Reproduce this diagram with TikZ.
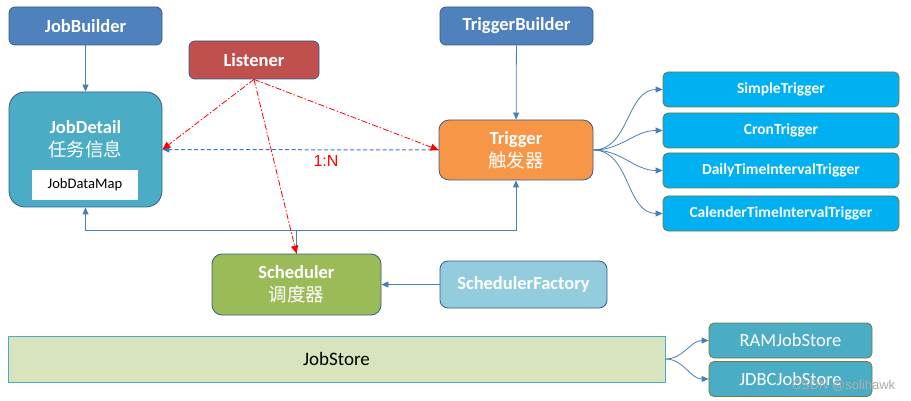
\documentclass[tikz,border=0pt]{standalone}
\usepackage{fontspec}
\setmainfont{Carlito}
\newfontfamily\cjk{Noto Sans CJK SC}
\newfontfamily\arialf{Liberation Sans}
\usetikzlibrary{arrows.meta}
\definecolor{bluebox}{HTML}{4F81BD}
\definecolor{bordblue}{HTML}{385D8A}
\definecolor{redbox}{HTML}{C0504D}
\definecolor{tealbox}{HTML}{4BACC6}
\definecolor{orangebox}{HTML}{F79646}
\definecolor{cyanbox}{HTML}{00B0F0}
\definecolor{olivebord}{HTML}{6F7F3A}
\definecolor{greenbox}{HTML}{9BBB59}
\definecolor{lightblue}{HTML}{93CDDD}
\definecolor{storefill}{HTML}{D7E4BD}
\definecolor{linkblue}{HTML}{4A7EBB}
\definecolor{dashblue}{HTML}{4472C4}
\tikzset{
  box/.style={draw=bordblue, line width=0.8pt, inner sep=0pt, align=center, text=white,
    font=\fontsize{18.5}{23}\selectfont\bfseries},
  tbox/.style={draw=olivebord, line width=0.8pt, fill=cyanbox, rounded corners=5pt, inner sep=0pt,
    minimum width=236pt, minimum height=35pt, text=white, font=\fontsize{15.5}{18}\selectfont\bfseries},
  sbox/.style={draw=olivebord, line width=0.8pt, fill=tealbox, rounded corners=5pt, inner sep=0pt,
    minimum width=163pt, minimum height=35pt, text=white, font=\fontsize{18.5}{21}\selectfont},
  link/.style={draw=linkblue, line width=0.8pt, -{Triangle[length=7pt,width=6pt]}},
  dlink/.style={draw=dashblue, line width=1pt, -{Triangle[length=7pt,width=6pt]}, dash pattern=on 4pt off 2.5pt},
  rlink/.style={draw=red, line width=0.8pt, dash pattern=on 6pt off 2pt on 1.5pt off 2pt,
    -{Triangle[length=8pt,width=7pt]}}
}
\begin{document}
\begin{tikzpicture}[x=1pt,y=-1pt]
\useasboundingbox[fill=white] (0,0) rectangle (911,401);
% boxes
\node[box, fill=bluebox, rounded corners=6pt, minimum width=153pt, minimum height=38pt] (JB) at (85.5,26) {JobBuilder};
\node[box, fill=redbox, rounded corners=6pt, minimum width=130pt, minimum height=38pt] (LI) at (254,60) {Listener};
\node[box, fill=tealbox, rounded corners=16pt, minimum width=153pt, minimum height=115pt] (JD) at (85.5,149.5) {};
\node[align=center, text=white, font=\fontsize{18.5}{23}\selectfont\bfseries] (JDT) at (85.5,139.5) {JobDetail\\{\cjk\mdseries\fontsize{18.5}{23}\selectfont 任务信息}};
\node[fill=white, minimum width=106pt, minimum height=30pt, inner sep=0pt, font=\fontsize{14.6}{17}\selectfont] (JDM) at (85,185) {JobDataMap};
\node[box, fill=bluebox, rounded corners=6pt, minimum width=153pt, minimum height=38pt] (TB) at (516.5,26) {TriggerBuilder};
\node[box, fill=orangebox, rounded corners=10pt, minimum width=154pt, minimum height=60pt] (TR) at (516,150) {Trigger\\{\cjk\mdseries\fontsize{18.5}{22}\selectfont 触发器}};
\node[tbox] (ST) at (781,89.5) {SimpleTrigger};
\node[tbox] (CT) at (781,130.5) {CronTrigger};
\node[tbox] (DT) at (781,170.5) {DailyTimeIntervalTrigger};
\node[tbox] (KT) at (781,213.5) {CalenderTimeIntervalTrigger};
\node[box, fill=greenbox, rounded corners=10pt, minimum width=169pt, minimum height=61pt] (SC) at (296.5,284.5) {Scheduler\\{\cjk\mdseries\fontsize{18.5}{24}\selectfont 调度器}};
\node[box, fill=lightblue, rounded corners=8pt, minimum width=167pt, minimum height=47pt] (SF) at (523.5,284.5) {SchedulerFactory};
\node[draw=tealbox, line width=0.8pt, fill=storefill, minimum width=657pt, minimum height=46pt, inner sep=0pt,
  font=\fontsize{19}{22}\selectfont] (JS) at (336.5,359) {JobStore};
\node[sbox] (RAM) at (790.5,340.5) {RAMJobStore};
\node[sbox] (JDBC) at (790.5,379) {JDBCJobStore};
\node[text=gray!65, font=\arialf\fontsize{13}{15}\selectfont] (WM) at (843.5,386) {CSDN @solihawk};
% connectors
\draw[link] (JB) -- (JD);
\draw[link] (TB) -- (TR);
\coordinate (J) at (296.5,230);
\draw[draw=linkblue, line width=0.8pt] (SC.north) -- (J);
\draw[link] (J) -| (JD.south);
\draw[link] (J) -| (TR.south);
\draw[link] (SF) -- (SC);
\draw[dlink] (TR.west) -- (JD.east);
\node[text=red, font=\arialf\fontsize{16}{18}\selectfont] (RN) at (326,160.5) {1:N};
\draw[rlink] (LI.south) -- (JD.east);
\draw[rlink] (LI.south) -- (TR.west);
\draw[rlink] (LI.south) -- (SC.north);
\foreach \t in {ST,CT,DT,KT}
  \draw[link] (TR.east) to[out=0, in=180] (\t.west);
\draw[link] (JS.east) to[out=0, in=180] (RAM.west);
\draw[link] (JS.east) to[out=0, in=180] (JDBC.west);
\end{tikzpicture}
\end{document}
